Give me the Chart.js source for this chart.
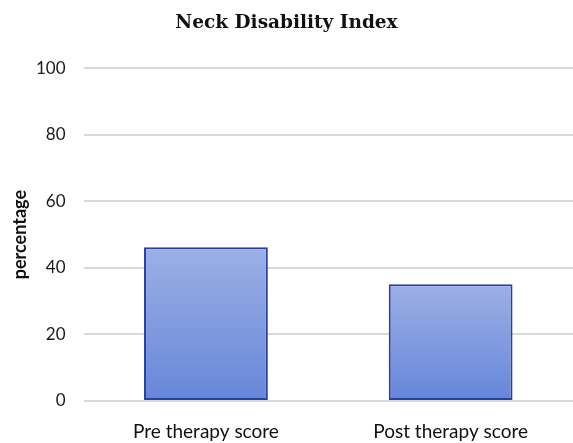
<!DOCTYPE html>
<html>
<head>
<meta charset="utf-8">
<script src="https://cdn.jsdelivr.net/npm/chart.js@4"></script>
<style>
html,body{margin:0;padding:0;background:#fff;}
#wrap{width:573px;height:443px;position:relative;}
</style>
</head>
<body>
<div id="wrap"><canvas id="c" width="573" height="443"></canvas></div>
<script>
const categories = ["Pre therapy score", "Post therapy score"];
const scores = [46.2, 35.1];
const yTicks = [0, 20, 40, 60, 80, 100];

function barFill(ctx) {
  const chart = ctx.chart;
  const ys = chart.scales && chart.scales.y;
  if (!chart.chartArea || !ys) return '#8199DE';
  const v = ctx.raw;
  const top = ys.getPixelForValue(v);
  const bot = ys.getPixelForValue(0);
  if (!isFinite(top) || !isFinite(bot) || top === bot) return '#8199DE';
  const g = chart.ctx.createLinearGradient(0, top, 0, bot);
  g.addColorStop(0, '#9DB0E6');
  g.addColorStop(1, '#6586D9');
  return g;
}

new Chart(document.getElementById('c'), {
  type: 'bar',
  data: {
    labels: categories,
    datasets: [{
      data: scores,
      backgroundColor: barFill,
      borderColor: '#2B3FA0',
      borderWidth: 2,
      borderSkipped: false,
      barPercentage: 0.506,
      categoryPercentage: 1.0
    }]
  },
  options: {
    responsive: false,
    animation: false,
    layout: { padding: { left: 0, right: 0, top: 0, bottom: -18.8 } },
    plugins: {
      legend: { display: false },
      tooltip: { enabled: false },
      title: {
        display: true,
        text: 'Neck Disability Index',
        color: '#111',
        font: { family: 'DejaVu Serif', size: 18.5, weight: 'bold' },
        padding: { top: 12, bottom: 34 }
      }
    },
    scales: {
      x: {
        grid: { display: false, drawTicks: false },
        border: { display: false },
        ticks: {
          color: '#111',
          font: { family: 'Lato', size: 19 },
          padding: 19
        }
      },
      y: {
        min: 0,
        max: 100,
        afterBuildTicks: (axis) => { axis.ticks = yTicks.map(v => ({ value: v })); },
        grid: { color: '#d9d9d9', lineWidth: 2, drawTicks: false },
        border: { display: false },
        ticks: {
          color: '#1a1a1a',
          font: { family: 'Lato', size: 17 },
          padding: 18
        },
        title: {
          display: true,
          text: 'percentage',
          color: '#111',
          font: { family: 'Lato', size: 18, weight: 'bold' },
          padding: { top: 9, bottom: -12.6 }
        }
      }
    }
  }
});
</script>
</body>
</html>
